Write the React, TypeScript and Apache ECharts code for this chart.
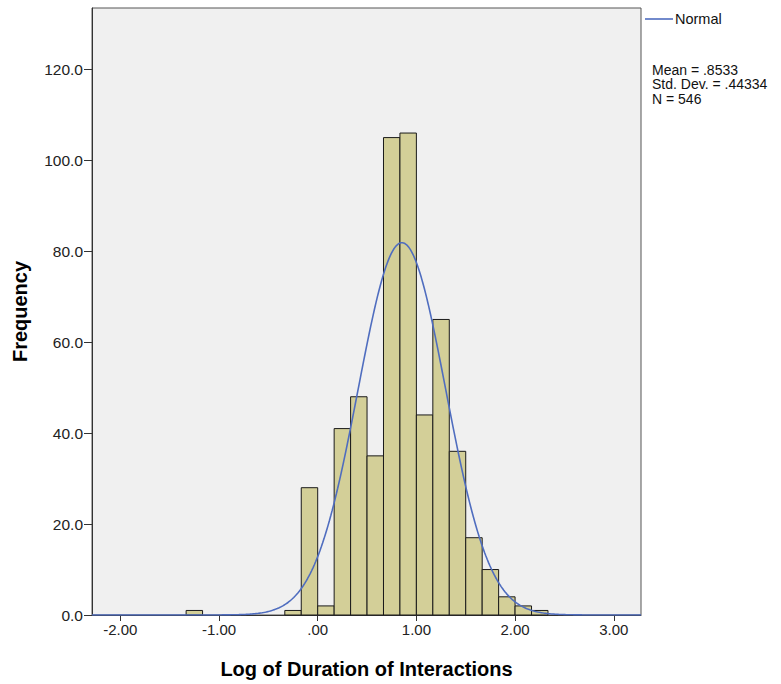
import React, { useEffect, useRef } from 'react';
import * as echarts from 'echarts';

// Histogram bins (lower edges) and frequencies
const binWidth = 1 / 6;
const binStarts = [-4 / 3, -2 / 6, -1 / 6, 0, 1 / 6, 2 / 6, 3 / 6, 4 / 6, 5 / 6, 1, 7 / 6, 8 / 6, 9 / 6, 10 / 6, 11 / 6, 2, 13 / 6];
const counts = [1, 1, 28, 2, 41, 48, 35, 105, 106, 44, 65, 36, 17, 10, 4, 2, 1];

// Displayed statistics (used for the fitted normal curve)
const statMean = 0.8533;
const statSD = 0.44334;
const statN = 546;
const statLines = ['Mean = .8533', 'Std. Dev. = .44334', 'N = 546'];

const xTickValues = [-2, -1, 0, 1, 2, 3];
const xTickLabels = ['-2.00', '-1.00', '.00', '1.00', '2.00', '3.00'];
const yTickValues = [0, 20, 40, 60, 80, 100, 120];
const yTickLabels = ['0.0', '20.0', '40.0', '60.0', '80.0', '100.0', '120.0'];

const xMin = -2.287;
const xMax = 3.276;
const yMax = 133.5;

export default function App() {
  const ref = useRef<HTMLDivElement>(null);
  useEffect(() => {
    document.body.style.margin = '0';
    const chart = echarts.init(ref.current!, null, { renderer: 'svg' });
    const barData = binStarts.map((s, i) => [s, s + binWidth, counts[i]]);
    const curve: number[][] = [];
    const steps = 400;
    for (let k = 0; k <= steps; k++) {
      const x = xMin + ((xMax - xMin) * k) / steps;
      const z = (x - statMean) / statSD;
      const y = (statN * binWidth) / (statSD * Math.sqrt(2 * Math.PI)) * Math.exp(-0.5 * z * z);
      curve.push([x, y]);
    }
    const font = 'Liberation Sans, Arial, sans-serif';
    const pick = (vals: number[], labels: string[]) => (v: number) => {
      const i = vals.findIndex((t) => Math.abs(t - v) < 1e-9);
      return i >= 0 ? labels[i] : '';
    };
    chart.setOption({
      animation: false,
      grid: {
        left: 92,
        right: 140,
        top: 8,
        bottom: 68,
        show: true,
        backgroundColor: '#f0f0f0',
        borderColor: '#555',
        borderWidth: 1,
      },
      xAxis: {
        type: 'value',
        min: xMin,
        max: xMax,
        name: 'Log of Duration of Interactions',
        nameLocation: 'middle',
        nameGap: 44,
        nameTextStyle: { fontFamily: font, fontSize: 20, fontWeight: 'bold', color: '#000' },
        axisLine: { show: true, onZero: false, lineStyle: { color: '#333' } },
        axisTick: { show: true, customValues: xTickValues, length: 6, lineStyle: { color: '#333' } },
        axisLabel: {
          customValues: xTickValues,
          formatter: pick(xTickValues, xTickLabels),
          fontFamily: font,
          fontSize: 15,
          color: '#222',
          margin: 7,
        },
        splitLine: { show: false },
      },
      yAxis: {
        type: 'value',
        min: 0,
        max: yMax,
        name: 'Frequency',
        nameLocation: 'middle',
        nameGap: 62,
        nameRotate: 90,
        nameTextStyle: { fontFamily: font, fontSize: 20, fontWeight: 'bold', color: '#000' },
        axisLine: { show: true, onZero: false, lineStyle: { color: '#333' } },
        axisTick: { show: true, customValues: yTickValues, length: 8, lineStyle: { color: '#333' } },
        axisLabel: {
          customValues: yTickValues,
          formatter: pick(yTickValues, yTickLabels),
          fontFamily: font,
          fontSize: 15.5,
          color: '#222',
          margin: 9,
        },
        splitLine: { show: false },
      },
      series: [
        {
          type: 'custom',
          z: 2,
          data: barData,
          encode: { x: [0, 1], y: 2 },
          renderItem: (params: any, api: any) => {
            const x0 = api.value(0);
            const x1 = api.value(1);
            const y = api.value(2);
            const p0 = api.coord([x0, y]);
            const p1 = api.coord([x1, 0]);
            return {
              type: 'rect',
              shape: { x: p0[0], y: p0[1], width: p1[0] - p0[0], height: p1[1] - p0[1] },
              style: { fill: '#d3cf98', stroke: '#1a1a1a', lineWidth: 1 },
            };
          },
        },
        {
          type: 'line',
          name: 'Normal',
          z: 3,
          data: curve,
          showSymbol: false,
          smooth: false,
          lineStyle: { color: '#4f6dbf', width: 1.6 },
        },
      ],
      graphic: [
        { type: 'line', shape: { x1: 645, y1: 19, x2: 673, y2: 19 }, style: { stroke: '#4f6dbf', lineWidth: 1.6 } },
        { type: 'text', x: 675, y: 19, style: { text: 'Normal', fontFamily: font, fontSize: 14.5, fill: '#111', verticalAlign: 'middle' } },
        ...statLines.map((t, i) => ({
          type: 'text',
          x: 652,
          y: 69.5 + i * 14.6,
          style: { text: t, fontFamily: font, fontSize: 14, lineHeight: 14, fill: '#111', verticalAlign: 'middle' },
        })),
      ],
    });
    return () => chart.dispose();
  }, []);
  return <div ref={ref} style={{ width: 781, height: 684 }} />;
}
